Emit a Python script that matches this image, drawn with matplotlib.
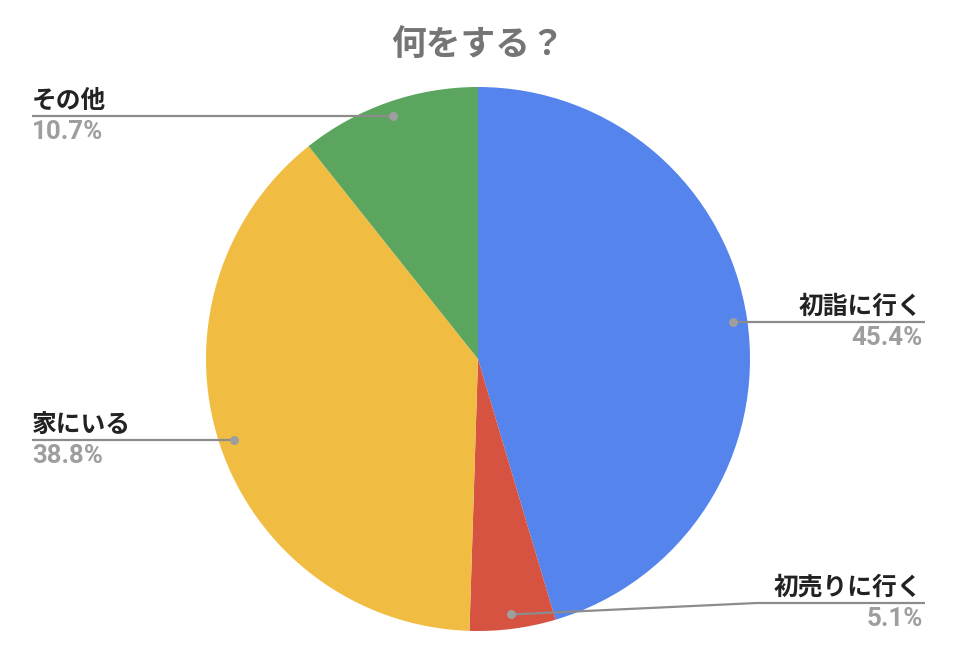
import numpy as np
import matplotlib
matplotlib.use("Agg")
import matplotlib.pyplot as plt

# data
labels = ["初詣に行く", "初売りに行く", "家にいる", "その他"]
values = [45.4, 5.1, 38.8, 10.7]
colors = ["#5484EC", "#D65241", "#F0BD42", "#5BA55E"]
title = "何をする？"

W, H = 956, 664
CX, CY, R = 478, 359, 272  # pixel coords, y down


def py(y):
    return H - y


fig = plt.figure(figsize=(W / 100, H / 100), dpi=100)
ax = fig.add_axes([0, 0, 1, 1])

wedges, _ = ax.pie(values, colors=colors, startangle=90, counterclock=False,
                   center=(CX, py(CY)), radius=R,
                   wedgeprops=dict(linewidth=0))
ax.set_xlim(0, W)
ax.set_ylim(0, H)
ax.set_aspect("equal")
ax.axis("off")

name_font = dict(family=["Noto Sans CJK JP", "DejaVu Sans"], weight="bold", size=17.8, color="#222222")
pct_font = dict(family=["Roboto", "Noto Sans CJK JP"], weight="bold", size=18.6, color="#9E9E9E")
line_col = "#8C8C8C"

# where leader lines bend to (pixel y), only where it differs from the dot
line_y_override = {"初売りに行く": 603}

for w, lab, v in zip(wedges, labels, values):
    mid = np.deg2rad((w.theta1 + w.theta2) / 2)
    dx = CX + 0.947 * R * np.cos(mid)
    dy = py(CY) + 0.947 * R * np.sin(mid)
    ly = py(line_y_override[lab]) if lab in line_y_override else dy
    ax.plot(dx, dy, "o", ms=6.5, color="#9E9E9E", mec="none", zorder=5)
    if np.cos(mid) >= 0:
        xend = 925
        if ly != dy:
            xs = [dx, 757, xend]
            ys = [dy, ly, ly]
        else:
            xs = [dx, xend]
            ys = [dy, ly]
        ax.plot(xs, ys, color=line_col, lw=1.6, zorder=4, solid_capstyle="butt")
        ax.text(xend - 3, ly + 8, lab, ha="right", va="baseline", **name_font)
        ax.text(xend - 2, ly - 23, f"{v:.1f}%", ha="right", va="baseline", **pct_font)
    else:
        xstart = 32
        ax.plot([xstart, dx], [ly, ly], color=line_col, lw=1.6, zorder=4, solid_capstyle="butt")
        ax.text(xstart, ly + 8, lab, ha="left", va="baseline", **name_font)
        ax.text(xstart, ly - 23, f"{v:.1f}%", ha="left", va="baseline", **pct_font)

ax.text(478, py(44), title, ha="center", va="center",
        family=["Noto Sans CJK JP", "DejaVu Sans"], weight="bold", size=25, color="#757575")

fig.savefig("out.png", dpi=100)
